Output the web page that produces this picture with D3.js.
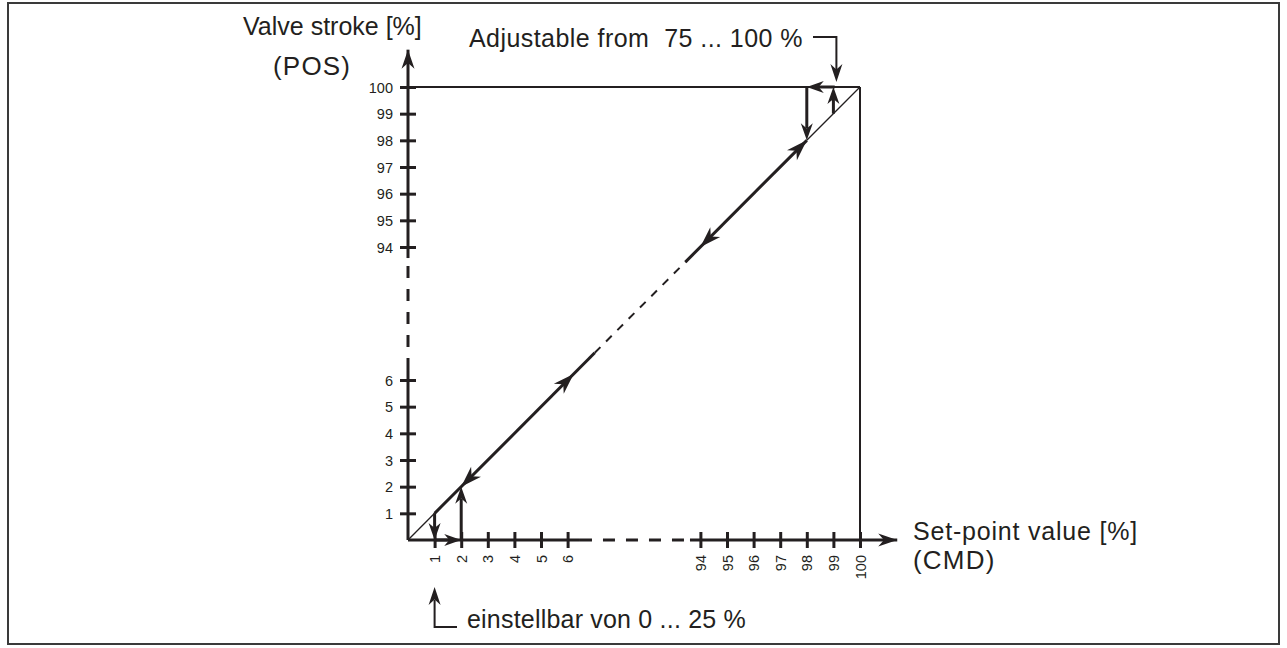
<!DOCTYPE html>
<html><head><meta charset="utf-8">
<script src="https://cdn.jsdelivr.net/npm/d3@7"></script>
<style>body{margin:0;background:#fff}</style>
</head><body>
<svg id="c" width="1287" height="648"></svg>
<script>
// ---- data ----
const breakDomain = [0, 6, 94, 100];          // broken axis knots
const xTickValues = [1, 2, 3, 4, 5, 6, 94, 95, 96, 97, 98, 99, 100];
const yTickValues = [1, 2, 3, 4, 5, 6, 94, 95, 96, 97, 98, 99, 100];
const xTickLabels = xTickValues.map(String);
const yTickLabels = yTickValues.map(String);
const axisEnd = 101.4;
// characteristic (CMD = POS) pieces: [from, to]
const diagThin = [[0, 1], [98, 100]];
const diagThick = [[1, 24], [84, 98]];
const diagDashed = [[24, 84]];
// arrowheads on the characteristic: [tip value, direction]
const diagArrows = [[2, -1], [10, 1], [94, -1], [98, 1]];
// close-tight arrows [x1,y1,x2,y2] (tip at x2,y2)
const lowArrows = [[1, 1, 1, 0], [1, 0, 2, 0], [2, 0, 2, 2]];
const highArrows = [[98, 100, 98, 98], [99.05, 100, 98, 100], [99, 99, 99, 100]];
const axisSolidX = [[0, 14.2], [87.1, axisEnd]];
const axisDashX = [[14.2, 87.1]];
const axisSolidY = [[0, 12.6], [86.7, axisEnd]];
const axisDashY = [[12.6, 86.7]];
const texts = {
  yTitle: "Valve stroke [%]", yTitle2: "(POS)",
  xTitle: "Set-point value [%]", xTitle2: "(CMD)",
  top: "Adjustable from  75 ... 100 %",
  bottom: "einstellbar von 0 ... 25 %"
};

// ---- drawing ----
const C = "#231f20";
const FONT = "'Liberation Sans', Arial, Helvetica, sans-serif";
const svg = d3.select("#c");
const x = d3.scaleLinear().domain(breakDomain).range([408, 567.6, 700.4, 860]);
const y = d3.scaleLinear().domain(breakDomain).range([540, 380, 247, 87]);

svg.append("rect").attr("x", 8).attr("y", 3).attr("width", 1271).attr("height", 641)
  .attr("fill", "none").attr("stroke", "#3a3a3a").attr("stroke-width", 2);

function arrowHead(g, x1, y1, x2, y2, len = 19, hw = 6.5) {
  const a = Math.atan2(y2 - y1, x2 - x1) * 180 / Math.PI;
  g.append("path")
    .attr("d", `M0,0L${-len},${-hw}L${-len * 0.7},0L${-len},${hw}Z`)
    .attr("transform", `translate(${x2},${y2}) rotate(${a})`)
    .attr("fill", C);
}
const g = svg.append("g");

// box lines (100 %)
g.append("line").attr("x1", x(0)).attr("x2", x(100)).attr("y1", y(100)).attr("y2", y(100))
  .attr("stroke", C).attr("stroke-width", 2);
g.append("line").attr("x1", x(100)).attr("x2", x(100)).attr("y1", y(100)).attr("y2", y(0))
  .attr("stroke", C).attr("stroke-width", 2);

// axes lines
function seg(arr, horiz, dashed) {
  arr.forEach(([a, b]) => {
    const l = g.append("line").attr("stroke", C).attr("stroke-width", 3);
    if (horiz) l.attr("x1", x(a)).attr("x2", x(b)).attr("y1", y(0)).attr("y2", y(0));
    else l.attr("x1", x(0)).attr("x2", x(0)).attr("y1", y(a)).attr("y2", y(b));
    if (dashed) l.attr("stroke-dasharray", "12,11");
  });
}
seg(axisSolidX, true, false); seg(axisDashX, true, true);
seg(axisSolidY, false, false); seg(axisDashY, false, true);
arrowHead(g, x(100), y(0), x(axisEnd), y(0), 19, 6.5);
arrowHead(g, x(0), y(100), x(0), y(axisEnd), 19, 6.5);

// axis ticks via d3 axes
const ax = svg.append("g").attr("transform", `translate(0,${y(0)})`)
  .call(d3.axisBottom(x).tickValues(xTickValues).tickFormat((d, i) => xTickLabels[i]).tickSize(8));
ax.select(".domain").remove();
ax.selectAll(".tick line").attr("y1", -8).attr("y2", 8).attr("stroke", C).attr("stroke-width", 3);
ax.selectAll(".tick text").attr("transform", "rotate(-90)").attr("x", -15).attr("y", 0)
  .attr("dy", "0.35em").attr("text-anchor", "end")
  .attr("font-family", FONT).attr("font-size", 14.5).attr("fill", C);

const ay = svg.append("g").attr("transform", `translate(${x(0)},0)`)
  .call(d3.axisLeft(y).tickValues(yTickValues).tickFormat((d, i) => yTickLabels[i]).tickSize(8));
ay.select(".domain").remove();
ay.selectAll(".tick line").attr("x1", -8).attr("x2", 8).attr("stroke", C).attr("stroke-width", 3);
ay.selectAll(".tick text").attr("x", -15).attr("dy", "0.35em")
  .attr("font-family", FONT).attr("font-size", 14.5).attr("fill", C);

// characteristic
diagThin.forEach(([a, b]) => g.append("line").attr("x1", x(a)).attr("y1", y(a)).attr("x2", x(b)).attr("y2", y(b))
  .attr("stroke", C).attr("stroke-width", 1.3));
diagThick.forEach(([a, b]) => g.append("line").attr("x1", x(a)).attr("y1", y(a)).attr("x2", x(b)).attr("y2", y(b))
  .attr("stroke", C).attr("stroke-width", 3));
diagDashed.forEach(([a, b]) => g.append("line").attr("x1", x(a)).attr("y1", y(a)).attr("x2", x(b)).attr("y2", y(b))
  .attr("stroke", C).attr("stroke-width", 2).attr("stroke-dasharray", "8,8"));
diagArrows.forEach(([v, d]) => {
  arrowHead(g, x(v) - d * 10, y(v) + d * 10, x(v), y(v), 21, 7);
});

// tight adjustment arrows
lowArrows.concat(highArrows).forEach(([x1, y1, x2, y2]) => {
  const px1 = x(x1), py1 = y(y1), px2 = x(x2), py2 = y(y2);
  const L = Math.hypot(px2 - px1, py2 - py1);
  const ex = px2 - (px2 - px1) / L * 12, ey = py2 - (py2 - py1) / L * 12;
  g.append("line").attr("x1", px1).attr("y1", py1).attr("x2", ex).attr("y2", ey)
    .attr("stroke", C).attr("stroke-width", 3);
  arrowHead(g, px1, py1, px2, py2, 17, 6);
});

// annotation top
const tx = svg.append("g").attr("font-family", FONT).attr("fill", C);
tx.append("text").attr("x", 803).attr("y", 47).attr("text-anchor", "end").attr("font-size", 25)
  .attr("letter-spacing", 0.45)
  .attr("xml:space", "preserve").style("white-space", "pre").text(texts.top);
const ax99 = x(99) + 3;
g.append("path").attr("d", `M813,37H${ax99}V70`).attr("fill", "none").attr("stroke", C).attr("stroke-width", 2);
arrowHead(g, ax99, 60, ax99, y(100) - 5, 18, 6);

// annotation bottom
const bx = x(1);
g.append("path").attr("d", `M${bx},600V627H457`).attr("fill", "none").attr("stroke", C).attr("stroke-width", 2);
arrowHead(g, bx, 610, bx, 587, 18, 6);
tx.append("text").attr("x", 467).attr("y", 628).attr("font-size", 25).attr("letter-spacing", 0.2).text(texts.bottom);

// axis titles
tx.append("text").attr("x", 243).attr("y", 35).attr("font-size", 25).text(texts.yTitle);
tx.append("text").attr("x", 273).attr("y", 75).attr("font-size", 26).attr("letter-spacing", 1.2).text(texts.yTitle2);
tx.append("text").attr("x", 913).attr("y", 540).attr("font-size", 25).attr("letter-spacing", 0.8).text(texts.xTitle);
tx.append("text").attr("x", 913).attr("y", 569).attr("font-size", 26).attr("letter-spacing", 1.2).text(texts.xTitle2);
</script>
</body></html>
